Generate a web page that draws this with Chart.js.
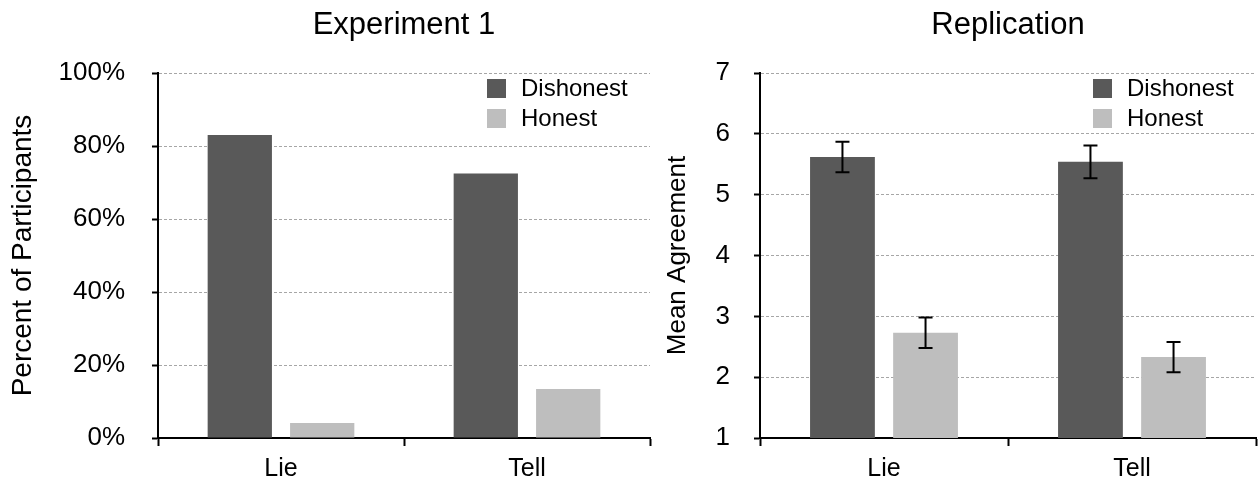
<!DOCTYPE html>
<html>
<head>
<meta charset="utf-8">
<script src="https://cdn.jsdelivr.net/npm/chart.js@4.4.0/dist/chart.umd.min.js"></script>
<style>
html, body { margin:0; padding:0; background:#fff; width:1258px; height:482px; overflow:hidden; }
canvas { position:absolute; top:0; }
#graficoExp { left:0; }
#graficoRep { left:640px; }
</style>
</head>
<body>
<canvas id="graficoExp" width="660" height="482"></canvas>
<canvas id="graficoRep" width="618" height="482"></canvas>
<script>
// datos
const categorias = ['Lie', 'Tell'];
const series = ['Dishonest', 'Honest'];
const exp1Dishonest = [83.0, 72.5];
const exp1Honest = [4.1, 13.4];
const repDishonest = [5.62, 5.54];
const repHonest = [2.73, 2.33];
const repDishonestErr = [0.25, 0.27];
const repHonestErr = [0.25, 0.25];
const colores = ['#595959', '#bebebe'];

const fuente = '"Liberation Sans", Arial, Helvetica, sans-serif';
Chart.defaults.font.family = fuente;
Chart.defaults.color = '#000';

// barras de error
const errorBars = {
    id: 'errorBars',
    afterDatasetsDraw(chart) {
        const ctx = chart.ctx;
        const y = chart.scales.y;
        chart.data.datasets.forEach((ds, i) => {
            if (!ds.errores) return;
            const meta = chart.getDatasetMeta(i);
            meta.data.forEach((bar, j) => {
                const top = y.getPixelForValue(ds.data[j] + ds.errores[j]);
                const bot = y.getPixelForValue(ds.data[j] - ds.errores[j]);
                ctx.save();
                ctx.strokeStyle = '#000';
                ctx.lineWidth = 2;
                ctx.beginPath();
                ctx.moveTo(bar.x, top); ctx.lineTo(bar.x, bot);
                ctx.moveTo(bar.x - 7, top); ctx.lineTo(bar.x + 7, top);
                ctx.moveTo(bar.x - 7, bot); ctx.lineTo(bar.x + 7, bot);
                ctx.stroke();
                ctx.restore();
            });
        });
    }
};

// leyenda dentro del area + titulo centrado sobre el area
const leyenda = {
    id: 'leyenda',
    afterDraw(chart) {
        const ctx = chart.ctx;
        const a = chart.chartArea;
        ctx.save();
        ctx.fillStyle = '#000';
        ctx.font = '31px ' + fuente;
        ctx.textAlign = 'center';
        ctx.textBaseline = 'middle';
        ctx.fillText(chart.options.titulo, (a.left + a.right) / 2, 25);
        ctx.restore();
        chart.data.datasets.forEach((ds, i) => {
            const x = a.right - 163;
            const yy = a.top + 6 + i * 30;
            ctx.save();
            ctx.fillStyle = ds.backgroundColor;
            ctx.fillRect(x, yy, 19, 19);
            ctx.fillStyle = '#000';
            ctx.font = '24px ' + fuente;
            ctx.textBaseline = 'middle';
            ctx.textAlign = 'left';
            ctx.fillText(ds.label, x + 34, yy + 10);
            ctx.restore();
        });
    }
};

function opciones(titulo, ejeY, tamEje, min, max, paso, formato, anchoY, padTitulo, padTicks, padDer) {
    return {
        responsive: false,
        animation: false,
        titulo: titulo,
        layout: { padding: { left: 0, right: padDer, top: 73, bottom: 0 } },
        plugins: {
            legend: { display: false },
            tooltip: { enabled: false },
            title: { display: false }
        },
        scales: {
            x: {
                grid: { display: true, drawOnChartArea: false, offset: true, tickLength: 8, tickColor: '#000', tickWidth: 2 },
                border: { color: '#000', width: 2 },
                ticks: { color: '#000', font: { size: 25 }, padding: 8 },
                afterFit: s => { s.height = 44; }
            },
            y: {
                min: min, max: max,
                ticks: { stepSize: paso, color: '#000', font: { size: 26 }, padding: padTicks, callback: formato },
                grid: { color: '#a6a6a6', lineWidth: 1, tickLength: 6, tickColor: '#000', tickWidth: 2 },
                border: { color: '#000', width: 2, dash: [3, 2] },
                title: { display: true, text: ejeY, color: '#000', font: { size: tamEje }, padding: { top: padTitulo, bottom: 0 } },
                afterFit: s => { s.width = anchoY; }
            }
        }
    };
}

function datos(d1, d2, e1, e2) {
    return {
        labels: categorias,
        datasets: [
            { label: series[0], data: d1, errores: e1, backgroundColor: colores[0], borderWidth: 0, barPercentage: 0.78, categoryPercentage: 0.67 },
            { label: series[1], data: d2, errores: e2, backgroundColor: colores[1], borderWidth: 0, barPercentage: 0.78, categoryPercentage: 0.67 }
        ]
    };
}

new Chart(document.getElementById('graficoExp').getContext('2d'), {
    type: 'bar',
    data: datos(exp1Dishonest, exp1Honest, null, null),
    options: opciones('Experiment 1', 'Percent of Participants', 28, 0, 100, 20, v => v + '%', 158, 6.2, 27, 10),
    plugins: [errorBars, leyenda]
});

new Chart(document.getElementById('graficoRep').getContext('2d'), {
    type: 'bar',
    data: datos(repDishonest, repHonest, repDishonestErr, repHonestErr),
    options: opciones('Replication', 'Mean Agreement', 26, 1, 7, 1, v => v, 120, 22.4, 24, 2),
    plugins: [errorBars, leyenda]
});
</script>
</body>
</html>
